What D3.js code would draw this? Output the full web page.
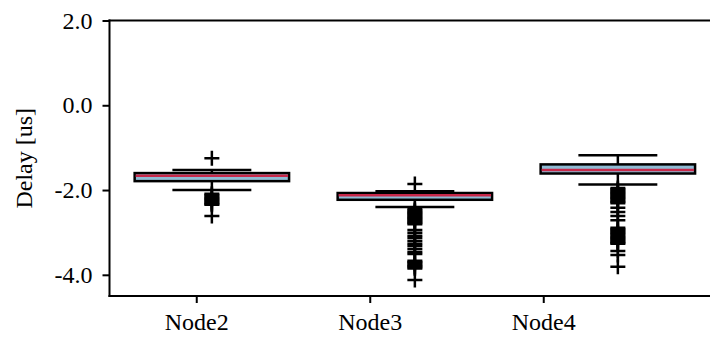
<!DOCTYPE html>
<html>
<head>
<meta charset="utf-8">
<script src="https://cdn.jsdelivr.net/npm/d3@7"></script>
<style>
  html, body { margin: 0; padding: 0; background: #fff; }
  svg { display: block; }
  text { font-family: "Liberation Serif", "Times New Roman", serif; fill: #000; }
</style>
</head>
<body>
<svg id="chart" width="710" height="338"></svg>
<script>
// Delay distribution per node (microseconds)
const categories = ["Node2", "Node3", "Node4"];
const tickPositions = [1, 2, 3];
const boxPositions = [1.09, 2.26, 3.43];

const whiskerHigh = [-1.53, -2.03, -1.18];
const q3 = [-1.60, -2.07, -1.395];
const median = [-1.66, -2.125, -1.53];
const q1 = [-1.79, -2.23, -1.61];
const whiskerLow = [-2.00, -2.40, -1.87];

const outliersNode2 = [-1.25, -2.09, -2.12, -2.15, -2.18, -2.21, -2.24, -2.27, -2.30,
  -2.33, -2.35, -2.61];
const outliersNode3 = [-1.86, -2.45, -2.48, -2.51, -2.54, -2.57, -2.60, -2.63, -2.66,
  -2.69, -2.72, -2.75, -2.78, -2.81, -2.94, -3.01, -3.08, -3.13, -3.20, -3.27, -3.32,
  -3.39, -3.46, -3.51, -3.67, -3.70, -3.73, -3.76, -3.79, -3.82, -3.85, -4.12];
const outliersNode4 = [-1.95, -1.98, -2.01, -2.04, -2.07, -2.10, -2.13, -2.16, -2.19,
  -2.22, -2.25, -2.28, -2.31, -2.42, -2.52, -2.61, -2.71, -2.89, -2.92, -2.95, -2.98,
  -3.01, -3.04, -3.07, -3.10, -3.13, -3.16, -3.19, -3.22, -3.25, -3.27, -3.44, -3.53,
  -3.81];
const outliers = [outliersNode2, outliersNode3, outliersNode4];

const yTicks = [2.0, 0.0, -2.0, -4.0];
const yDomain = [-4.5, 2.0];

const boxWidth = 0.89;
const capWidth = 0.455;

const svg = d3.select("#chart");
const plotLeft = 109.5, plotTop = 20.5, plotBottom = 296, plotRight = 740;

const x = d3.scaleLinear().domain([0.5, 1.5]).range([plotLeft, plotLeft + 173.5]);
const y = d3.scaleLinear().domain(yDomain).range([plotBottom, plotTop]);

const boxes = categories.map((c, i) => ({
  name: c, pos: boxPositions[i], hi: whiskerHigh[i], q3: q3[i], med: median[i],
  q1: q1[i], lo: whiskerLow[i], out: outliers[i]
}));

const plot = svg.append("g");
const lw = 2.5;

// whiskers and caps
boxes.forEach(b => {
  const g = plot.append("g");
  const cx = x(b.pos);
  const capHalf = (x(capWidth) - x(0)) / 2;
  g.append("line").attr("x1", cx).attr("x2", cx).attr("y1", y(b.q3)).attr("y2", y(b.hi))
    .attr("stroke", "#000").attr("stroke-width", lw);
  g.append("line").attr("x1", cx).attr("x2", cx).attr("y1", y(b.q1)).attr("y2", y(b.lo))
    .attr("stroke", "#000").attr("stroke-width", lw);
  [b.hi, b.lo].forEach(v => {
    g.append("line").attr("x1", cx - capHalf).attr("x2", cx + capHalf)
      .attr("y1", y(v)).attr("y2", y(v))
      .attr("stroke", "#000").attr("stroke-width", lw);
  });
});

// boxes with median
boxes.forEach(b => {
  const half = (x(boxWidth) - x(0)) / 2;
  const cx = x(b.pos);
  plot.append("rect")
    .attr("x", cx - half).attr("y", y(b.q3))
    .attr("width", 2 * half).attr("height", y(b.q1) - y(b.q3))
    .attr("fill", "#8fbbd4").attr("stroke", "#000").attr("stroke-width", lw);
  plot.append("line")
    .attr("x1", cx - half + 1).attr("x2", cx + half - 1)
    .attr("y1", y(b.med)).attr("y2", y(b.med))
    .attr("stroke", "#c8284a").attr("stroke-width", lw);
});

// outliers as plus markers
const ms = 7.5;
boxes.forEach(b => {
  const cx = x(b.pos);
  const g = plot.append("g");
  g.selectAll("path").data(b.out).join("path")
    .attr("d", v => `M${cx - ms},${y(v)}H${cx + ms}M${cx},${y(v) - ms}V${y(v) + ms}`)
    .attr("stroke", "#000").attr("stroke-width", lw).attr("fill", "none");
});

// spines
svg.append("line").attr("x1", plotLeft).attr("x2", plotLeft).attr("y1", plotTop - 1).attr("y2", plotBottom + 1)
  .attr("stroke", "#000").attr("stroke-width", 2);
svg.append("line").attr("x1", plotLeft - 1).attr("x2", plotRight).attr("y1", plotTop).attr("y2", plotTop)
  .attr("stroke", "#000").attr("stroke-width", 2);
svg.append("line").attr("x1", plotLeft - 1).attr("x2", plotRight).attr("y1", plotBottom).attr("y2", plotBottom)
  .attr("stroke", "#000").attr("stroke-width", 2);

// y axis
const yAxis = d3.axisLeft(y).tickValues(yTicks).tickSize(7).tickPadding(10)
  .tickFormat(d => d3.format(".1f")(d).replace("\u2212", "-"));
const gy = svg.append("g").attr("transform", `translate(${plotLeft},0)`).call(yAxis);
gy.select(".domain").remove();
gy.selectAll(".tick line").attr("stroke", "#000").attr("stroke-width", 2);
gy.selectAll(".tick text").style("font-size", "24px")
  .style("font-family", "'Liberation Serif', serif");

// x axis
const xAxis = d3.axisBottom(x).tickValues(tickPositions).tickSize(7).tickPadding(10)
  .tickFormat((d, i) => categories[i]);
const gx = svg.append("g").attr("transform", `translate(0,${plotBottom})`).call(xAxis);
gx.select(".domain").remove();
gx.selectAll(".tick line").attr("stroke", "#000").attr("stroke-width", 2);
gx.selectAll(".tick text").style("font-size", "24px")
  .style("font-family", "'Liberation Serif', serif");

// y label
svg.append("text")
  .attr("transform", `translate(32,${(plotTop + plotBottom) / 2}) rotate(-90)`)
  .attr("text-anchor", "middle")
  .style("font-size", "24px")
  .text("Delay [us]");
</script>
</body>
</html>
